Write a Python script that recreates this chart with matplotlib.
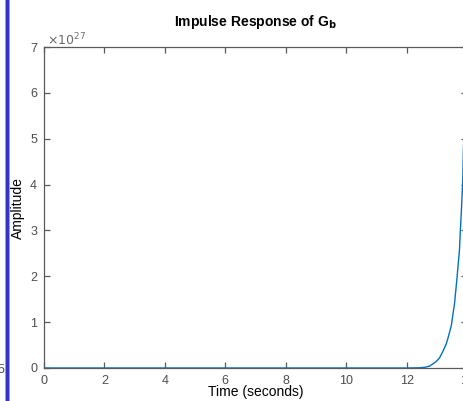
import matplotlib
matplotlib.use("Agg")
import matplotlib.pyplot as plt
from matplotlib.patches import Rectangle

# impulse response (amplitude in units of 1e27)
time_s = [0.0, 2.0, 4.0, 6.0, 8.0, 10.0, 12.0, 12.43, 12.6, 12.76, 12.98,
          13.09, 13.2, 13.31, 13.37, 13.48, 13.59, 13.66, 13.75, 13.78,
          13.82, 13.86, 13.88, 13.94, 14.0]
amp_e27 = [0.0, 0.0, 0.0, 0.0, 0.0, 0.0, 0.0, 0.005, 0.015, 0.04, 0.14,
           0.22, 0.36, 0.52, 0.65, 0.92, 1.42, 1.9, 2.57, 3.0,
           3.51, 4.1, 4.75, 5.7, 6.8]
xticks = [0, 2, 4, 6, 8, 10, 12, 14]
yticks = [0, 1, 2, 3, 4, 5, 6, 7]

plt.rcParams['font.family'] = ['Liberation Sans', 'DejaVu Sans']

W, H = 464, 401
fig = plt.figure(figsize=(W / 100, H / 100), dpi=100)
fig.patch.set_facecolor('white')

# axes runs slightly past the right edge, like the cropped screenshot
ax = fig.add_axes([44 / W, 1 - 368 / H, 423 / W, 321 / H])
ax.plot(time_s, amp_e27, color='#0072BD', lw=1.0)

ax.set_xlim(0, 14)
ax.set_ylim(0, 7)
ax.set_xticks(xticks)
ax.set_yticks(yticks)
ax.set_xticklabels([str(t) for t in xticks])
ax.set_yticklabels([str(t) for t in yticks])

grey = '#4d4d4d'
for s in ax.spines.values():
    s.set_color('#5a5a5a')
    s.set_linewidth(0.9)
ax.tick_params(direction='in', length=4, width=0.9, colors='#5a5a5a',
               labelcolor=grey, labelsize=9, top=True, right=True, pad=5)

fig.text(47 / W, 1 - 40 / H, r'$\times10^{27}$', color='#6a6a6a', fontsize=9,
         ha='left', va='center')

fig.text(255.5 / W, 1 - 22 / H, r'Impulse Response of G$_\mathbf{b}$',
         fontsize=10, fontweight='bold', ha='center', va='center')
fig.text(18 / W, 1 - 208 / H, 'Amplitude', fontsize=10, rotation=90,
         ha='center', va='center')
fig.text(255.5 / W, 1 - 392 / H, 'Time (seconds)', fontsize=10,
         ha='center', va='center')

# window border and a bit of the neighbouring plot on the left
fig.patches.append(Rectangle((5 / W, 0), 5 / W, 1, transform=fig.transFigure,
                             facecolor='#9a9ae6', edgecolor='none'))
fig.patches.append(Rectangle((6 / W, 0), 3 / W, 1, transform=fig.transFigure,
                             facecolor='#3434c8', edgecolor='none'))
fig.text(4 / W, 1 - 370 / H, '5', color=grey, fontsize=9, ha='right', va='center')

fig.savefig('out.png', dpi=100)
